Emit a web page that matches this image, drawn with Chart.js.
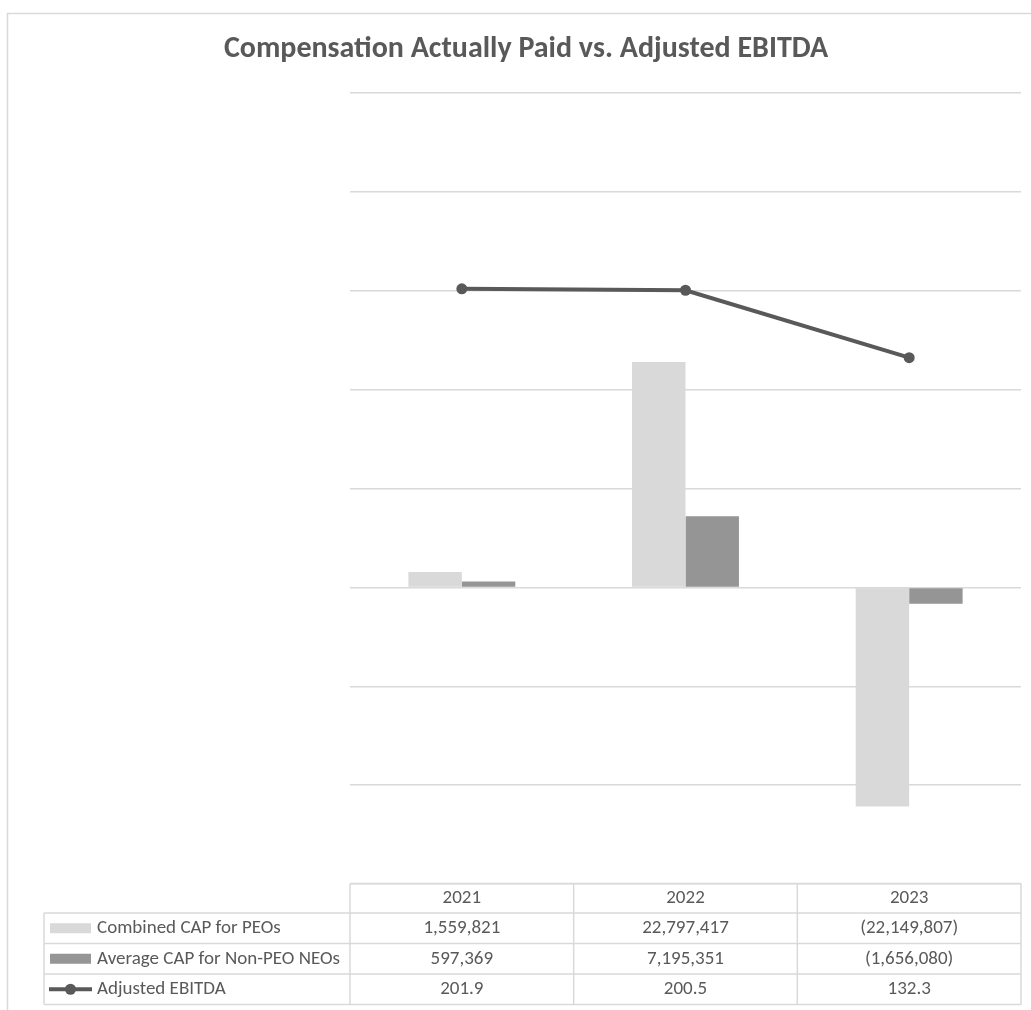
<!DOCTYPE html>
<html>
<head>
<meta charset="utf-8">
<title>Compensation Actually Paid vs. Adjusted EBITDA</title>
<script src="https://cdn.jsdelivr.net/npm/chart.js@4"></script>
<style>
  html, body { margin: 0; padding: 0; background: #ffffff; }
  #wrap { position: relative; width: 1031px; height: 1010px; }
</style>
</head>
<body>
<div id="wrap"><canvas id="chart"></canvas></div>
<script>
// Fiscal years and the three series shown in the chart and its data table
const years = ['2021', '2022', '2023'];
const combinedCapPeos = [1559821, 22797417, -22149807];
const averageCapNonPeoNeos = [597369, 7195351, -1656080];
const adjustedEbitda = [201.9, 200.5, 132.3];

const seriesNames = ['Combined CAP for PEOs', 'Average CAP for Non-PEO NEOs', 'Adjusted EBITDA'];
const chartTitle = 'Compensation Actually Paid vs. Adjusted EBITDA';

const TEXT = '#595959';
const GRID = '#d9d9d9';
const LIGHT_BAR = '#d9d9d9';
const DARK_BAR = '#959595';
const LINE = '#595959';
const FONT = "Carlito, Calibri, 'Open Sans', sans-serif";

// Accounting style: thousands separators, negatives in parentheses
function fmtMoney(v) {
  const s = Math.abs(v).toLocaleString('en-US');
  return v < 0 ? '(' + s + ')' : s;
}
function fmtEbitda(v) {
  return v.toFixed(1);
}

// Frame, title and the data table underneath the plot
const decorations = {
  id: 'decorations',
  beforeDraw(chart) {
    const ctx = chart.ctx;
    ctx.save();
    ctx.fillStyle = '#ffffff';
    ctx.fillRect(0, 0, chart.width, chart.height);
    ctx.strokeStyle = '#d9d9d9';
    ctx.lineWidth = 1.5;
    ctx.strokeRect(7.5, 13.5, chart.width + 20, chart.height + 20);
    ctx.restore();
  },
  afterDraw(chart) {
    const ctx = chart.ctx;
    const area = chart.chartArea;
    const x = chart.scales.x;
    ctx.save();

    // Title
    ctx.fillStyle = TEXT;
    ctx.font = "bold 30px " + FONT;
    ctx.textAlign = 'center';
    ctx.textBaseline = 'alphabetic';
    ctx.fillText(chartTitle, 526, 57);

    // Table geometry
    const tableLeft = 44;
    const headTop = area.bottom - 0.5;
    const rowH = 30.5;
    const rowsTop = headTop + 29.5;
    const colEdges = [];
    for (let i = 0; i <= years.length; i++) colEdges.push(area.left + (area.right - area.left) * i / years.length);

    ctx.strokeStyle = GRID;
    ctx.lineWidth = 1.5;
    // Header row (years only)
    ctx.beginPath();
    ctx.moveTo(area.left, headTop); ctx.lineTo(area.right, headTop);
    for (const cx of colEdges) { ctx.moveTo(cx, headTop); ctx.lineTo(cx, rowsTop + rowH * 3); }
    // Series rows
    for (let r = 0; r <= 3; r++) {
      const y = rowsTop + rowH * r;
      ctx.moveTo(tableLeft, y); ctx.lineTo(area.right, y);
    }
    ctx.moveTo(tableLeft, rowsTop); ctx.lineTo(tableLeft, rowsTop + rowH * 3);
    ctx.stroke();

    ctx.font = "19px " + FONT;
    ctx.fillStyle = TEXT;
    ctx.textBaseline = 'middle';
    ctx.textAlign = 'center';
    years.forEach((yr, i) => {
      ctx.fillText(yr, x.getPixelForValue(i), headTop + 15);
    });

    const rows = [
      combinedCapPeos.map(fmtMoney),
      averageCapNonPeoNeos.map(fmtMoney),
      adjustedEbitda.map(fmtEbitda)
    ];
    rows.forEach((cells, r) => {
      const cy = rowsTop + rowH * r + rowH / 2;
      ctx.textAlign = 'center';
      cells.forEach((txt, i) => ctx.fillText(txt, x.getPixelForValue(i), cy));
      // legend keys
      if (r === 0 || r === 1) {
        ctx.fillStyle = r === 0 ? LIGHT_BAR : DARK_BAR;
        ctx.fillRect(50, cy - 5, 41, 10);
      } else {
        ctx.strokeStyle = LINE;
        ctx.lineWidth = 4;
        ctx.beginPath(); ctx.moveTo(49, cy); ctx.lineTo(92, cy); ctx.stroke();
        ctx.fillStyle = LINE;
        ctx.beginPath(); ctx.arc(70.5, cy, 5.5, 0, Math.PI * 2); ctx.fill();
      }
      ctx.fillStyle = TEXT;
      ctx.textAlign = 'left';
      ctx.fillText(seriesNames[r], 97, cy);
    });
    ctx.restore();
  }
};

new Chart(document.getElementById('chart'), {
  data: {
    labels: years,
    datasets: [
      {
        type: 'line',
        label: seriesNames[2],
        data: adjustedEbitda,
        yAxisID: 'y1',
        borderColor: LINE,
        backgroundColor: LINE,
        borderWidth: 4,
        pointRadius: 5.5,
        pointBackgroundColor: LINE,
        pointBorderWidth: 0,
        order: 0
      },
      {
        type: 'bar',
        label: seriesNames[0],
        data: combinedCapPeos,
        yAxisID: 'y',
        backgroundColor: LIGHT_BAR,
        categoryPercentage: 0.478,
        barPercentage: 1,
        order: 1
      },
      {
        type: 'bar',
        label: seriesNames[1],
        data: averageCapNonPeoNeos,
        yAxisID: 'y',
        backgroundColor: DARK_BAR,
        categoryPercentage: 0.478,
        barPercentage: 1,
        order: 1
      }
    ]
  },
  options: {
    responsive: true,
    maintainAspectRatio: false,
    animation: false,
    devicePixelRatio: 1,
    layout: { padding: { left: 350, right: 10, top: 93, bottom: 126 } },
    plugins: {
      legend: { display: false },
      title: { display: false },
      tooltip: { enabled: false }
    },
    scales: {
      x: { display: false, offset: true },
      y: {
        position: 'left',
        min: -30000000,
        max: 50000000,
        ticks: { display: false, stepSize: 10000000 },
        grid: { color: GRID, lineWidth: 1.5, drawTicks: false },
        border: { display: false },
        afterFit(scale) { scale.width = 0; }
      },
      y1: {
        position: 'right',
        min: -400,
        max: 400,
        display: false,
        grid: { display: false }
      }
    }
  },
  plugins: [decorations]
});
</script>
</body>
</html>
